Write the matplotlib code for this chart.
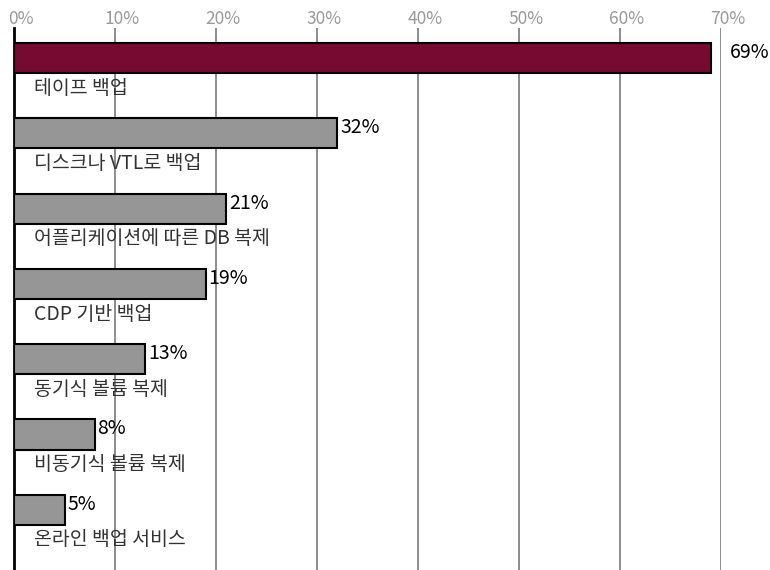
import matplotlib
matplotlib.use("Agg")
import matplotlib.pyplot as plt
import matplotlib.transforms as mtransforms

plt.rcParams['font.family'] = ['Noto Sans CJK KR', 'DejaVu Sans']

# data
categories = ['테이프 백업', '디스크나 VTL로 백업', '어플리케이션에 따른 DB 복제',
              'CDP 기반 백업', '동기식 볼륨 복제', '비동기식 볼륨 복제', '온라인 백업 서비스']
values = [69, 32, 21, 19, 13, 8, 5]
ticks = [0, 10, 20, 30, 40, 50, 60, 70]
tick_labels = ['0%', '10%', '20%', '30%', '40%', '50%', '60%', '70%']

bar_colors = ['#760a31'] + ['#969696'] * (len(values) - 1)

fig = plt.figure(figsize=(7.7, 5.7), dpi=100)
ax = fig.add_axes([14 / 770, 0, 707 / 770, 542 / 570])

ypos = list(range(len(values)))
ax.barh(ypos, values, height=0.4, color=bar_colors, edgecolor='black',
        linewidth=1.5, zorder=3)

ax.set_xlim(0, 70)
ax.set_ylim(len(values) - 0.2, -0.4)

ax.xaxis.tick_top()
ax.set_xticks(ticks)
ax.set_xticklabels(tick_labels, color='#999999', fontsize=12.5)
ax.tick_params(axis='x', length=0, pad=0)
shift = mtransforms.ScaledTranslation(7 / 100, 0, fig.dpi_scale_trans)
for lab in ax.get_xticklabels():
    lab.set_transform(lab.get_transform() + shift)
ax.set_yticks([])
ax.grid(axis='x', color='#8c8c8c', linewidth=1.4, zorder=0)

for s in ['top', 'right', 'bottom']:
    ax.spines[s].set_visible(False)
ax.spines['left'].set_linewidth(2)
ax.spines['left'].set_color('black')

# value labels and category names
pads = [14] + [2] * (len(values) - 1)
for y, v, name, p in zip(ypos, values, categories, pads):
    ax.annotate(f'{v}%', (v, y), xytext=(p, 4), textcoords='offset points',
                ha='left', va='center', fontsize=14, color='black',
                clip_on=False, annotation_clip=False, zorder=4)
    ax.annotate(name, (0, y + 0.2), xytext=(20, -15), textcoords='offset pixels',
                ha='left', va='center', fontsize=14, color='#333333', zorder=4)

fig.savefig('out.png', dpi=100)
